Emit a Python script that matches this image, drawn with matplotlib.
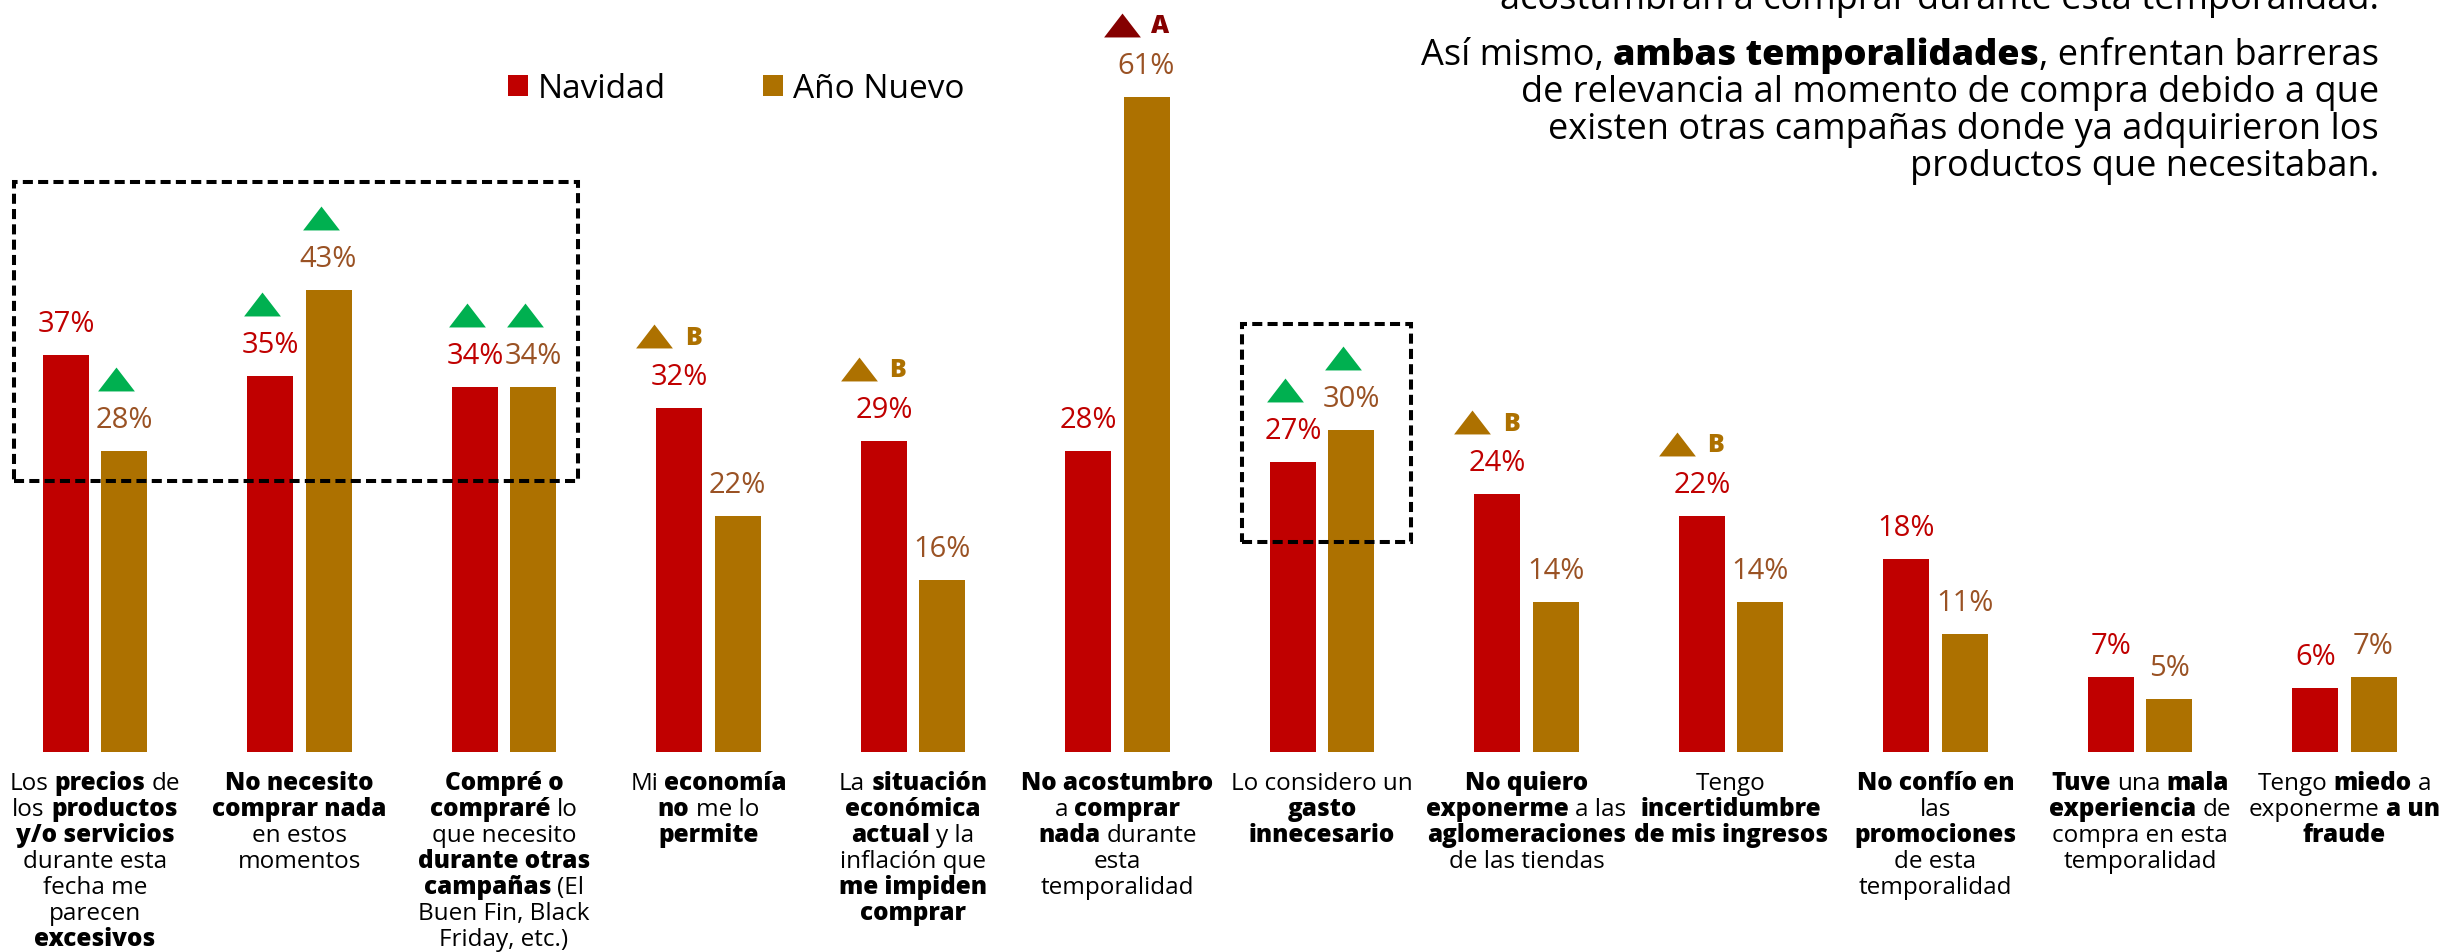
import matplotlib
matplotlib.use('Agg')
import matplotlib.pyplot as plt
from matplotlib.patches import Rectangle
from matplotlib.transforms import offset_copy
import numpy as np

plt.rcParams['font.family'] = ['Open Sans', 'DejaVu Sans']

W, H = 2443, 952

# --- Datos ---

navidad = [37, 35, 34, 32, 29, 28, 27, 24, 22, 18, 7, 6]
ano_nuevo = [28, 43, 34, 22, 16, 61, 30, 14, 14, 11, 5, 7]

# diferencias significativas: 'up' = triángulo verde, 'A'/'B' = triángulo con letra
flags_navidad = ['', 'up', 'up', 'B', 'B', '', 'up', 'B', 'B', '', '', '']
flags_ano = ['up', 'up', 'up', '', '', 'A', 'up', '', '', '', '', '']

# etiquetas de categoría, ** marca negritas
categorias = [
    ["Los **precios** de", "los **productos**", "**y/o servicios**", "durante esta",
     "fecha me", "parecen", "**excesivos**"],
    ["**No necesito**", "**comprar nada**", "en estos", "momentos"],
    ["**Compré o**", "**compraré** lo", "que necesito", "**durante otras**",
     "**campañas** (El", "Buen Fin, Black", "Friday, etc.)"],
    ["Mi **economía**", "**no** me lo", "**permite**"],
    ["La **situación**", "**económica**", "**actual** y la", "inflación que",
     "**me impiden**", "**comprar**"],
    ["**No acostumbro**", "a **comprar**", "**nada** durante", "esta", "temporalidad"],
    ["Lo considero un", "**gasto**", "**innecesario**"],
    ["**No quiero**", "**exponerme** a las", "**aglomeraciones**", "de las tiendas"],
    ["Tengo", "**incertidumbre**", "**de mis ingresos**"],
    ["**No confío en**", "las", "**promociones**", "de esta", "temporalidad"],
    ["**Tuve** una **mala**", "**experiencia** de", "compra en esta", "temporalidad"],
    ["Tengo **miedo** a", "exponerme **a un**", "**fraude**"],
]

nota = [
    "acostumbran a comprar durante esta temporalidad.",
    "Así mismo, **ambas temporalidades**, enfrentan barreras",
    "de relevancia al momento de compra debido a que",
    "existen otras campañas donde ya adquirieron los",
    "productos que necesitaban.",
]

RED = '#C00000'
GOLD = '#AD7100'
BROWN = '#9A5224'
GREEN = '#00B050'
DARK_RED = '#850000'

# triángulo más ancho que alto
TRI = [(-1, -0.65), (1, -0.65), (0, 0.65), (-1, -0.65)]

# --- Figura ---

fig = plt.figure(figsize=(W / 100, H / 100), dpi=100)
ax = fig.add_axes([0, 0, 1, 1])
ax.set_xlim(-0.4645, 11.4817)
ax.set_ylim(-18.56, 70.0)
ax.axis('off')

x = np.arange(len(navidad))
off, width = 0.142, 0.225
ax.bar(x - off, navidad, width, color=RED, label='Navidad')
ax.bar(x + off, ano_nuevo, width, color=GOLD, label='Año Nuevo')

ax.legend(loc='center left', bbox_to_anchor=(508 / W, 1 - 89 / H),
          bbox_transform=fig.transFigure, ncol=2, frameon=False, fontsize=24,
          handlelength=0.6, handleheight=0.6, handletextpad=0.3,
          columnspacing=2.9, borderpad=0, borderaxespad=0)


def draw_flag(xc, v, kind):
    if kind == 'up':
        tr = offset_copy(ax.transData, fig=fig, x=-8, y=72, units='dots')
        ax.plot([xc], [v], marker=TRI, ms=26.5, mew=0, color=GREEN, transform=tr)
        return
    color = GOLD if kind == 'B' else DARK_RED
    tr = offset_copy(ax.transData, fig=fig, x=-25, y=72, units='dots')
    ax.plot([xc], [v], marker=TRI, ms=26.5, mew=0, color=color, transform=tr)
    ax.annotate(kind, (xc, v), xytext=(14, 70), textcoords='offset pixels',
                ha='center', va='center', fontsize=18, fontweight='heavy', color=color)


for vals, pos, col, flags in [(navidad, x - off, RED, flags_navidad),
                              (ano_nuevo, x + off, BROWN, flags_ano)]:
    for xc, v, f in zip(pos, vals, flags):
        ax.annotate(f'{v}%', (xc, v), xytext=(0, 23), textcoords='offset pixels',
                    ha='center', va='baseline', fontsize=21, color=col)
        if f:
            draw_flag(xc, v, f)

# recuadros punteados
for (x0, x1, y0, y1) in [(-0.396, 2.362, 25.26, 53.07), (5.609, 6.435, 19.58, 39.86)]:
    ax.add_patch(Rectangle((x0, y0), x1 - x0, y1 - y0, fill=False, ec='black',
                           lw=2.9, ls=(0, (2.5, 1.3)), zorder=5))

# --- Texto con negritas mezcladas ---

renderer = fig.canvas.get_renderer()


def text_width(s, size, weight):
    t = fig.text(0, 0, s, fontsize=size, fontweight=weight)
    w = t.get_window_extent(renderer).width
    t.remove()
    return w


def draw_rich(line, xpx, ypx, size, ha='center', color='black'):
    space = text_width('n n', size, 'normal') - text_width('nn', size, 'normal')
    items, total = [], 0
    for i, chunk in enumerate(line.split('**')):
        if not chunk:
            continue
        weight = 'heavy' if i % 2 else 'normal'
        lead = (len(chunk) - len(chunk.lstrip(' '))) * space
        trail = (len(chunk) - len(chunk.rstrip(' '))) * space
        core = chunk.strip(' ')
        w = text_width(core, size, weight)
        items.append((lead, core, weight, w, trail))
        total += lead + w + trail
    x0 = xpx - total / 2 if ha == 'center' else xpx - total
    for lead, core, weight, w, trail in items:
        x0 += lead
        fig.text(x0 / W, ypx / H, core, fontsize=size, fontweight=weight,
                 color=color, ha='left', va='baseline')
        x0 += w + trail


for i, lines in enumerate(categorias):
    xc = ax.transData.transform((i, 0))[0]
    for k, line in enumerate(lines):
        draw_rich(line, xc, H - 790 - 26 * k, 17.5)

nota_y = [9, 65, 102, 139, 176]
for line, yy in zip(nota, nota_y):
    draw_rich(line, 2379, H - yy, 26, ha='right')

fig.savefig('out.png', dpi=100)
